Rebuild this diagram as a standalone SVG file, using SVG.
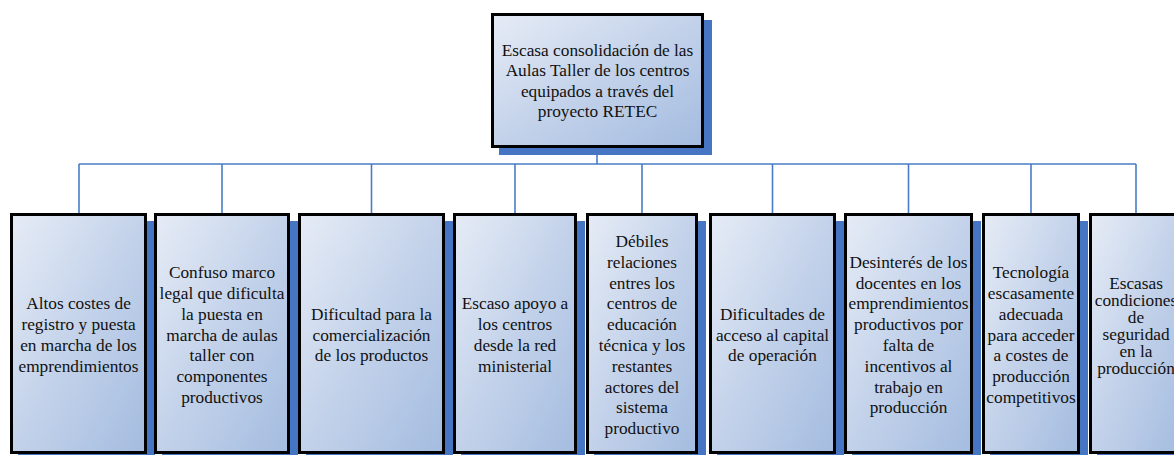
<svg xmlns="http://www.w3.org/2000/svg" width="1174" height="455" viewBox="0 0 1174 455">
<defs>
<linearGradient id="g" x1="0" y1="0" x2="1" y2="1">
<stop offset="0" stop-color="#E6ECF6"/>
<stop offset="0.5" stop-color="#C3D2EA"/>
<stop offset="1" stop-color="#A4BCE0"/>
</linearGradient>
</defs>
<style>
.sh{fill:#4676C3;}
.bx{fill:url(#g);stroke:#000;stroke-width:3;}
text{font-family:'Liberation Serif','Times New Roman',Tinos,'DejaVu Serif',serif;font-size:17.3px;fill:#111;text-anchor:middle;}
.c{stroke:#4A7CC6;stroke-width:1.6;fill:none;}
</style>
<g id="connectors">
<path class="c" d="M597 148V164M79 164H1136M79 164V213M222 164V213M371.5 164V213M515 164V213M642 164V213M772.5 164V213M908.5 164V213M1031 164V213M1136 164V213"/>
</g>
<g id="top">
<rect class="sh" x="499" y="20" width="213" height="135"/>
<rect class="bx" x="492.5" y="14.5" width="210" height="132"/>
<text font-family="Liberation Serif, serif" y="55.6"><tspan x="597.5">Escasa consolidación de las</tspan><tspan x="597.5" dy="20.6">Aulas Taller de los centros</tspan><tspan x="597.5" dy="20.6">equipados a través del</tspan><tspan x="597.5" dy="20.6">proyecto RETEC</tspan></text>
</g>
<g id="n1">
<rect class="sh" x="18" y="221" width="137" height="241"/>
<rect class="bx" x="11.5" y="214.5" width="134" height="238"/>
<text font-family="Liberation Serif, serif" y="309.3"><tspan x="78.5">Altos costes de</tspan><tspan x="78.5" dy="20.8">registro y puesta</tspan><tspan x="78.5" dy="20.8">en marcha de los</tspan><tspan x="78.5" dy="20.8">emprendimientos</tspan></text>
</g>
<g id="n2">
<rect class="sh" x="162" y="221" width="136" height="241"/>
<rect class="bx" x="155.5" y="214.5" width="133" height="238"/>
<text font-family="Liberation Serif, serif" y="278.1"><tspan x="222">Confuso marco</tspan><tspan x="222" dy="20.8">legal que dificulta</tspan><tspan x="222" dy="20.8">la puesta en</tspan><tspan x="222" dy="20.8">marcha de aulas</tspan><tspan x="222" dy="20.8">taller con</tspan><tspan x="222" dy="20.8">componentes</tspan><tspan x="222" dy="20.8">productivos</tspan></text>
</g>
<g id="n3">
<rect class="sh" x="306" y="221" width="147" height="241"/>
<rect class="bx" x="299.5" y="214.5" width="144" height="238"/>
<text font-family="Liberation Serif, serif" y="319.7"><tspan x="371.5">Dificultad para la</tspan><tspan x="371.5" dy="20.8">comercialización</tspan><tspan x="371.5" dy="20.8">de los productos</tspan></text>
</g>
<g id="n4">
<rect class="sh" x="461" y="221" width="124" height="241"/>
<rect class="bx" x="454.5" y="214.5" width="121" height="238"/>
<text font-family="Liberation Serif, serif" y="309.3"><tspan x="515">Escaso apoyo a</tspan><tspan x="515" dy="20.8">los centros</tspan><tspan x="515" dy="20.8">desde la red</tspan><tspan x="515" dy="20.8">ministerial</tspan></text>
</g>
<g id="n5">
<rect class="sh" x="594" y="221" width="112" height="241"/>
<rect class="bx" x="587.5" y="214.5" width="109" height="238"/>
<text font-family="Liberation Serif, serif" y="246.9"><tspan x="642">Débiles</tspan><tspan x="642" dy="20.8">relaciones</tspan><tspan x="642" dy="20.8">entres los</tspan><tspan x="642" dy="20.8">centros de</tspan><tspan x="642" dy="20.8">educación</tspan><tspan x="642" dy="20.8">técnica y los</tspan><tspan x="642" dy="20.8">restantes</tspan><tspan x="642" dy="20.8">actores del</tspan><tspan x="642" dy="20.8">sistema</tspan><tspan x="642" dy="20.8">productivo</tspan></text>
</g>
<g id="n6">
<rect class="sh" x="717" y="221" width="127" height="241"/>
<rect class="bx" x="710.5" y="214.5" width="124" height="238"/>
<text font-family="Liberation Serif, serif" y="319.7"><tspan x="772.5">Dificultades de</tspan><tspan x="772.5" dy="20.8">acceso al capital</tspan><tspan x="772.5" dy="20.8">de operación</tspan></text>
</g>
<g id="n7">
<rect class="sh" x="852" y="221" width="129" height="241"/>
<rect class="bx" x="845.5" y="214.5" width="126" height="238"/>
<text font-family="Liberation Serif, serif" y="267.7"><tspan x="908.5">Desinterés de los</tspan><tspan x="908.5" dy="20.8">docentes en los</tspan><tspan x="908.5" dy="20.8">emprendimientos</tspan><tspan x="908.5" dy="20.8">productivos por</tspan><tspan x="908.5" dy="20.8">falta de</tspan><tspan x="908.5" dy="20.8">incentivos al</tspan><tspan x="908.5" dy="20.8">trabajo en</tspan><tspan x="908.5" dy="20.8">producción</tspan></text>
</g>
<g id="n8">
<rect class="sh" x="990" y="221" width="98" height="241"/>
<rect class="bx" x="983.5" y="214.5" width="95" height="238"/>
<text font-family="Liberation Serif, serif" y="278.1"><tspan x="1031">Tecnología</tspan><tspan x="1031" dy="20.8">escasamente</tspan><tspan x="1031" dy="20.8">adecuada</tspan><tspan x="1031" dy="20.8">para acceder</tspan><tspan x="1031" dy="20.8">a costes de</tspan><tspan x="1031" dy="20.8">producción</tspan><tspan x="1031" dy="20.8">competitivos</tspan></text>
</g>
<g id="n9">
<rect class="sh" x="1097" y="221" width="94" height="241"/>
<rect class="bx" x="1090.5" y="214.5" width="91" height="238"/>
<text font-family="Liberation Serif, serif" font-size="14" y="289"><tspan x="1136">Escasas</tspan><tspan x="1136" dy="17">condiciones</tspan><tspan x="1136" dy="17">de</tspan><tspan x="1136" dy="17">seguridad</tspan><tspan x="1136" dy="17">en la</tspan><tspan x="1136" dy="17">producción</tspan></text>
</g>
</svg>
